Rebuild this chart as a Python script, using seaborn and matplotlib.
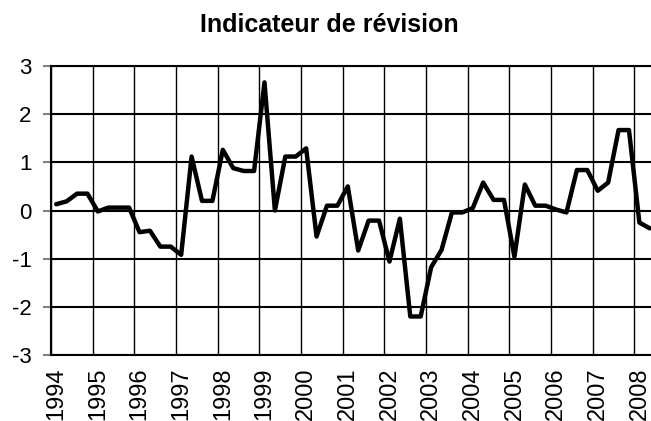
import matplotlib
matplotlib.use("Agg")
import matplotlib.pyplot as plt
import seaborn as sns
import numpy as np
import pandas as pd

# Indicateur trimestriel, 1994T1 - 2008T2
annees = [str(a) for a in range(1994, 2009)]
valeurs = [0.13, 0.19, 0.35, 0.35, -0.02, 0.06, 0.06, 0.06,
           -0.45, -0.42, -0.75, -0.75, -0.92, 1.12, 0.20, 0.20,
           1.26, 0.88, 0.82, 0.82, 2.66, 0.00, 1.12, 1.12,
           1.29, -0.54, 0.10, 0.10, 0.50, -0.83, -0.21, -0.21,
           -1.06, -0.17, -2.20, -2.20, -1.18, -0.82, -0.04, -0.04,
           0.05, 0.58, 0.22, 0.22, -0.96, 0.54, 0.10, 0.10,
           0.02, -0.04, 0.84, 0.84, 0.41, 0.58, 1.67, 1.67,
           -0.25, -0.37]
y_ticks = [-3, -2, -1, 0, 1, 2, 3]

df = pd.DataFrame({"trimestre": np.arange(len(valeurs)), "valeur": valeurs})

sns.set_theme(style="white", rc={"text.color": "black", "xtick.color": "black",
                                 "ytick.color": "black"})
plt.rcParams['font.family'] = ['Liberation Sans', 'DejaVu Sans']

fig = plt.figure(figsize=(6.51, 4.21), dpi=100)
ax = fig.add_axes([51 / 651, 66 / 421, 604 / 651, 289 / 421])

sns.lineplot(data=df, x="trimestre", y="valeur", color="black", linewidth=3.2, ax=ax)

ax.set_xlim(-0.5, 57.5)
ax.set_ylim(-3, 3)
ax.set_yticks(y_ticks)
ax.set_yticklabels([str(v) for v in y_ticks], fontsize=16)
ax.set_xticks(np.arange(0, 4 * len(annees), 4))
ax.set_xticklabels(annees, rotation=90, fontsize=17)
ax.set_xticks(np.arange(-0.5, 58, 4), minor=True)

ax.grid(True, axis="y", which="major", color="black", linewidth=1.5)
ax.grid(True, axis="x", which="minor", color="black", linewidth=1)
ax.grid(False, axis="x", which="major")
ax.tick_params(axis="y", length=6, width=1.5, color="#808080", labelcolor="black",
               pad=8, left=True)
ax.tick_params(axis="x", which="both", length=0, pad=9, labelcolor="black")
ax.set_xlabel("")
ax.set_ylabel("")
for s in ax.spines.values():
    s.set_color("black")
    s.set_linewidth(1.5)

fig.text(329 / 651, 1 - 25 / 421, "Indicateur de révision", ha="center", va="center",
         fontsize=18, fontweight="bold", color="black")

fig.savefig("out.png", dpi=100)
plt.close(fig)
